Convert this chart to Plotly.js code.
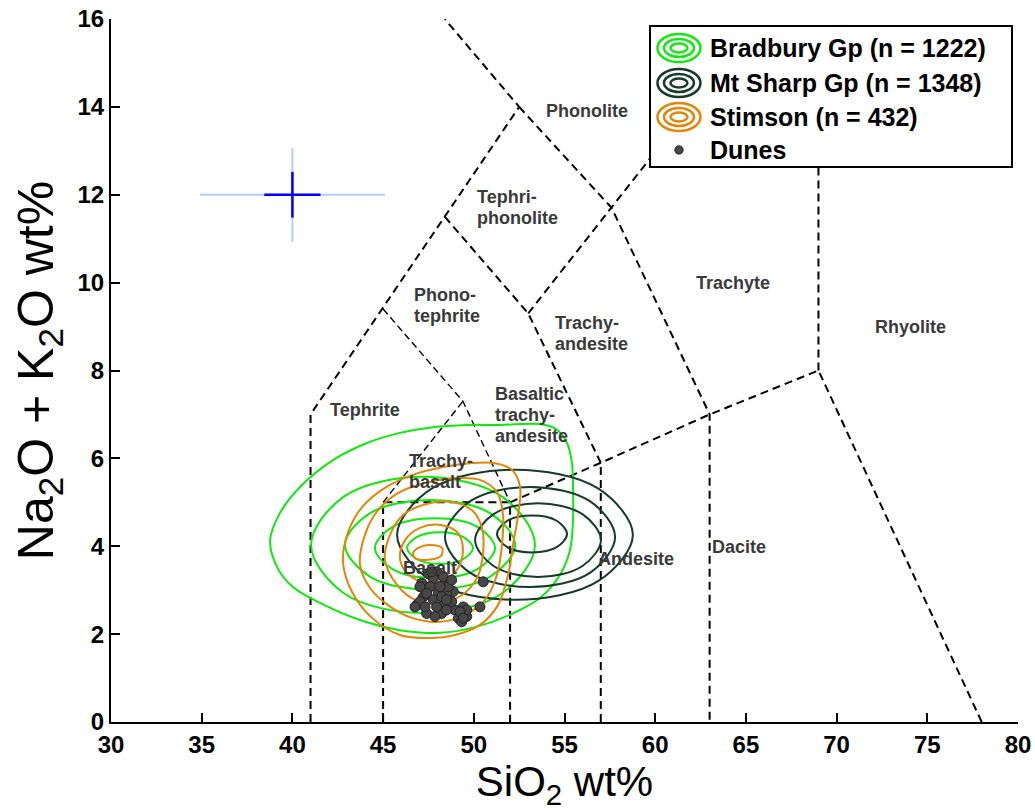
<!DOCTYPE html>
<html><head><meta charset="utf-8">
<script src="https://cdn.plot.ly/plotly-3.0.1.min.js"></script>
<style>html,body{margin:0;padding:0;background:#fff}#chart{width:1035px;height:812px}</style>
</head><body><div id="chart"></div>
<script>
// ---------- axis ticks ----------
const siO2Ticks = [30,35,40,45,50,55,60,65,70,75,80];
const alkTicks = [0,2,4,6,8,10,12,14,16];

// ---------- TAS field boundaries (SiO2, Na2O+K2O) ----------
const tasMainX = [41,41,52.5,48.4,null, 52.5,57.6,63,63,null, 45,45,52,52,null, 57,57,null, 52,57,63,69,78,null, 69,69,null, 53,57.6,61,null, 48.4,53,57,null];
const tasMainY = [0,7,14,16,null, 14,11.7,7,0,null, 0,5,5,0,null, 0,5.9,null, 5,5.9,7,8,0,null, 8,13.5,null, 9.3,11.7,13.5,null, 11.5,9.3,5.9,null];
const tasThinX = [45,49.4,52,null, 45,49.4];
const tasThinY = [9.4,7.3,5,null, 5,7.3];

// ---------- field names (one entry per line) ----------
const fieldNames = [['Phonolite'],['Tephri-','phonolite'],['Phono-','tephrite'],['Trachy-','andesite'],['Basaltic','trachy-','andesite'],['Trachy-','basalt'],['Tephrite'],['Basalt'],['Andesite'],['Dacite'],['Trachyte'],['Rhyolite']];
const fieldX = [56.24,50.07,46.6,54.37,51.06,46.3,41.96,46.0,56.74,64.6,64.3,74.1];
const fieldY = [13.9,11.72,9.47,8.84,6.99,5.71,7.1,3.5,3.71,3.98,9.99,8.99];
const fieldAnchor = ['center','left','left','left','left','left','left','left','left','center','center','center'];

// ---------- Bradbury Gp density contours ----------
const bradburyX = [38.77,39.32,40.42,42.24,44.11,45.93,47.75,49.62,51.44,53.65,54.59,55.14,55.41,55.47,55.47,55.30,54.75,53.65,51.99,50.07,48.14,45.93,43.73,41.52,40.03,39.15,38.77,null,
  53.37,51.56,47.20,42.84,41.03,42.84,47.20,51.56,53.37,null,
  52.28,50.91,47.59,44.27,42.90,44.27,47.59,50.91,52.28,null,
  51.17,50.20,47.86,45.52,44.55,45.52,47.86,50.20,51.17,null,
  49.96,49.43,48.14,46.85,46.32,46.85,48.14,49.43,49.96];
const bradburyY = [4.14,4.76,5.35,5.96,6.35,6.58,6.71,6.76,6.76,6.78,6.65,6.35,5.89,5.28,4.60,3.91,3.35,2.82,2.44,2.16,2.03,2.09,2.32,2.71,3.07,3.53,4.14,null,
  4.03,5.13,5.58,5.13,4.03,2.93,2.48,2.93,4.03,null,
  4.03,4.75,5.05,4.75,4.03,3.31,3.01,3.31,4.03,null,
  3.96,4.44,4.64,4.44,3.96,3.48,3.28,3.48,3.96,null,
  3.96,4.21,4.32,4.21,3.96,3.71,3.60,3.71,3.96];

// ---------- Mt Sharp Gp density contours ----------
const mtSharpX = [55.14,54.57,53.21,51.85,51.28,51.85,53.21,54.57,55.14,null,
  57.01,55.99,53.54,51.09,50.07,51.09,53.54,55.99,57.01,null,
  57.79,56.42,53.10,49.78,48.41,49.78,53.10,56.42,57.79,null,
  58.77,56.87,52.27,47.67,45.77,47.67,52.27,56.87,58.77];
const mtSharpY = [4.28,4.58,4.70,4.58,4.28,3.98,3.86,3.98,4.28,null,
  4.14,4.73,4.98,4.73,4.14,3.55,3.30,3.55,4.14,null,
  4.21,5.02,5.35,5.02,4.21,3.40,3.07,3.40,4.21,null,
  4.26,5.31,5.74,5.31,4.26,3.21,2.78,3.21,4.26];

// ---------- Stimson density contours ----------
const stimsonX = [45.93,44.39,43.29,42.79,43.07,43.84,45.10,46.59,48.25,49.79,51.17,52.10,52.55,52.44,52.16,51.89,51.33,50.34,48.96,47.59,45.93,null,
  43.73,44.0,44.72,45.82,47.31,48.96,50.34,51.28,51.61,51.55,51.28,50.62,49.51,48.14,46.59,45.27,44.28,43.73,null,
  45.10,45.38,46.10,47.20,48.69,49.90,50.45,50.51,50.18,49.35,48.14,46.76,45.77,45.10,null,
  45.93,46.21,47.03,48.25,49.13,49.40,49.13,48.30,47.20,46.32,45.93,null,
  46.65,47.03,47.59,48.25,48.19,47.48,46.76,46.65];
const stimsonY = [1.98,2.37,2.96,3.64,4.32,4.89,5.33,5.62,5.80,5.89,5.89,5.74,5.35,4.71,4.03,3.35,2.66,2.21,1.98,1.91,1.98,null,
  3.57,4.26,4.82,5.21,5.44,5.55,5.51,5.23,4.71,4.03,3.35,2.78,2.44,2.28,2.37,2.66,3.05,3.57,null,
  3.69,4.26,4.71,4.94,5.01,4.82,4.42,3.85,3.28,2.89,2.71,2.78,3.12,3.69,null,
  3.73,4.14,4.42,4.48,4.30,3.91,3.50,3.23,3.19,3.39,3.73,null,
  3.85,3.98,4.03,3.96,3.78,3.69,3.73,3.85];

// ---------- Dunes ----------
const dunesSiO2 = [47.49,47.95,47.13,47.77,48.41,48.87,47.59,47.22,46.85,47.40,48.32,48.23,48.96,49.42,49.15,49.61,49.33,50.34,50.52,48.04,47.77,48.50,47.40,47.03,47.95,48.59,48.14,48.32,48.78,49.61,46.76,47.31,47.86,48.23,48.50,47.03,47.67,48.50,49.24,49.42,48.78];
const dunesAlk = [3.38,3.42,3.16,3.27,3.16,2.97,3.08,2.85,2.66,2.47,2.66,2.47,2.55,2.62,2.36,2.40,2.28,2.62,3.19,2.93,2.78,2.93,2.93,2.74,2.62,3.08,3.08,3.31,2.74,2.55,2.62,2.62,2.40,2.85,2.55,3.08,3.42,2.78,2.51,2.36,3.23];

// ---------- analytical uncertainty cross ----------
const crossSiO2 = [40];
const crossAlk = [12];
const errSiO2Wide = 5.1, errAlkWide = 1.07;
const errSiO2Narrow = 1.55, errAlkNarrow = 0.52;

// ---------- legend ----------
const legendLabels = ['Bradbury Gp (n = 1222)','Mt Sharp Gp (n = 1348)','Stimson (n = 432)','Dunes'];

const C_BRAD = '#10e810', C_MTS = '#173a2a', C_STIM = '#e0870a', C_DUNE = '#474747';
const FONT = 'Liberation Sans, Arial, Helvetica, sans-serif';

const traces = [
  {x: tasMainX, y: tasMainY, mode:'lines', line:{color:'#000', width:2, dash:'8px,5px'}, hoverinfo:'skip', showlegend:false},
  {x: tasThinX, y: tasThinY, mode:'lines', line:{color:'#000', width:1.4, dash:'7px,4px'}, hoverinfo:'skip', showlegend:false},
  {x: bradburyX, y: bradburyY, mode:'lines', line:{color:C_BRAD, width:2, shape:'spline', smoothing:1}, name: legendLabels[0], showlegend:false},
  {x: mtSharpX, y: mtSharpY, mode:'lines', line:{color:C_MTS, width:2, shape:'spline', smoothing:1}, name: legendLabels[1], showlegend:false},
  {x: stimsonX, y: stimsonY, mode:'lines', line:{color:C_STIM, width:2, shape:'spline', smoothing:1}, name: legendLabels[2], showlegend:false},
  {x: dunesSiO2, y: dunesAlk, mode:'markers', marker:{color:C_DUNE, size:10, line:{color:'#222', width:1}}, name: legendLabels[3], showlegend:false},
  {x: crossSiO2, y: crossAlk, mode:'markers', marker:{size:1, color:'rgba(0,0,0,0)'}, showlegend:false, hoverinfo:'skip',
    error_x:{type:'constant', value: errSiO2Wide, width:0, thickness:2, color:'#b4ccff'},
    error_y:{type:'constant', value: errAlkWide, width:0, thickness:2, color:'#b4ccff'}},
  {x: crossSiO2, y: crossAlk, mode:'markers', marker:{size:1, color:'rgba(0,0,0,0)'}, showlegend:false, hoverinfo:'skip',
    error_x:{type:'constant', value: errSiO2Narrow, width:0, thickness:2.5, color:'#0000ff'},
    error_y:{type:'constant', value: errAlkNarrow, width:0, thickness:2.5, color:'#0000ff'}}
];

const LINE_H = 21;
const annotations = [];
fieldNames.forEach((lines,i)=>{
  const n = lines.length;
  lines.forEach((t,k)=>{
    annotations.push({
      x: fieldX[i], y: fieldY[i], xref:'x', yref:'y', text: t, showarrow:false,
      xanchor: fieldAnchor[i], yanchor:'middle', yshift: ((n-1)/2 - k)*LINE_H,
      font:{family:FONT, size:18, color:'#3a3a3a', weight:'bold'}
    });
  });
});

// legend geometry (paper coords)
const legRowY = [0.9587, 0.9090, 0.8606, 0.8137];
const legIconX = 0.6262, legTextX = 0.6582;
const shapes = [
  {type:'rect', xref:'paper', yref:'paper', x0:0.5943, x1:0.9934, y0:0.7895, y1:0.990, fillcolor:'#fff', line:{color:'#000', width:2}, layer:'above'}
];
const iconColors = [C_BRAD, C_MTS, C_STIM];
const ringHalf = [[0.0237,0.0199],[0.0165,0.0128],[0.0094,0.0064]];
iconColors.forEach((c,i)=>{
  ringHalf.forEach(h=>{
    shapes.push({type:'circle', xref:'paper', yref:'paper', x0:legIconX-h[0], x1:legIconX+h[0], y0:legRowY[i]-h[1], y1:legRowY[i]+h[1], line:{color:c, width:2.5}, layer:'above'});
  });
});
shapes.push({type:'circle', xref:'paper', yref:'paper', x0:legIconX-0.0046, x1:legIconX+0.0046, y0:legRowY[3]-0.0059, y1:legRowY[3]+0.0059, fillcolor:C_DUNE, line:{color:'#222', width:1}, layer:'above'});
legendLabels.forEach((t,i)=>{
  annotations.push({x:legTextX, y:legRowY[i], xref:'paper', yref:'paper', text:t, showarrow:false, xanchor:'left', yanchor:'middle',
    font:{family:FONT, size:25, color:'#000', weight:'bold'}});
});

const layout = {
  width:1035, height:812,
  margin:{l:111, r:17, t:19, b:90},
  paper_bgcolor:'#fff', plot_bgcolor:'#fff',
  font:{family:FONT, color:'#000'},
  showlegend:false,
  xaxis:{range:[30,80], tickvals: siO2Ticks, ticks:'inside', ticklen:9, tickwidth:2, tickcolor:'#000',
    showline:true, linewidth:2, linecolor:'#000', showgrid:false, zeroline:false, mirror:false,
    tickfont:{family:FONT, size:24, weight:'bold', color:'#000'},
    title:{text:'SiO<sub>2</sub> wt%', font:{family:FONT, size:42, color:'#000'}, standoff:4}},
  yaxis:{range:[0,16], tickvals: alkTicks, ticks:'inside', ticklen:9, tickwidth:2, tickcolor:'#000',
    showline:true, linewidth:2, linecolor:'#000', showgrid:false, zeroline:false, mirror:false,
    tickfont:{family:FONT, size:24, weight:'bold', color:'#000'},
    title:{text:'Na<sub>2</sub>O + K<sub>2</sub>O wt%', font:{family:FONT, size:50, color:'#000'}, standoff:8}},
  annotations: annotations,
  shapes: shapes
};

Plotly.newPlot('chart', traces, layout, {displayModeBar:false, staticPlot:true});
</script></body></html>
